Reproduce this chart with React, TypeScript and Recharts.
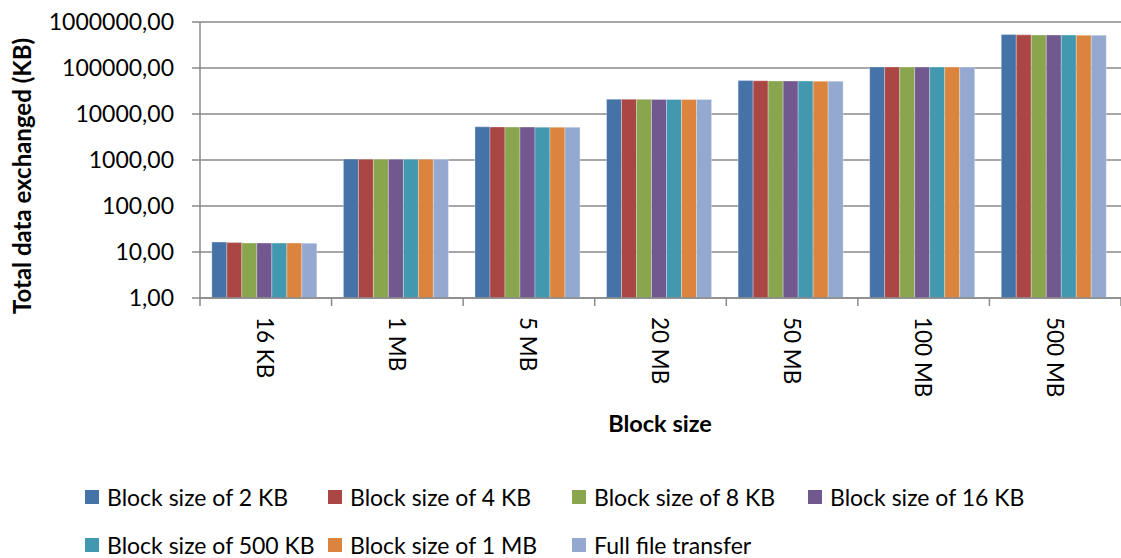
import React from 'react';
import { BarChart, Bar, XAxis, YAxis, CartesianGrid, Legend } from 'recharts';

// Block sizes on the x axis (file sizes transferred)
const categories = ['16 KB', '1 MB', '5 MB', '20 MB', '50 MB', '100 MB', '500 MB'];

// Total data exchanged (KB) per transfer mode
const block2kb = [16.4, 1045, 5260, 21000, 53200, 105500, 532000];
const block4kb = [16.0, 1042, 5230, 20900, 52800, 105200, 525000];
const block8kb = [15.7, 1040, 5200, 20800, 52300, 105000, 522000];
const block16kb = [15.6, 1038, 5190, 20750, 52000, 104800, 520000];
const block500kb = [15.6, 1037, 5180, 20700, 51900, 104700, 519000];
const block1mb = [15.6, 1036, 5170, 20700, 51800, 104600, 517000];
const fullFile = [15.5, 1035, 5160, 20650, 51700, 104500, 516000];

const yTicks = [1, 10, 100, 1000, 10000, 100000, 1000000];

const series = [
    { key: 'b2', name: 'Block size of 2 KB', color: '#4572A7', values: block2kb },
    { key: 'b4', name: 'Block size of 4 KB', color: '#AA4643', values: block4kb },
    { key: 'b8', name: 'Block size of 8 KB', color: '#89A54E', values: block8kb },
    { key: 'b16', name: 'Block size of 16 KB', color: '#71588F', values: block16kb },
    { key: 'b500', name: 'Block size of 500 KB', color: '#4198AF', values: block500kb },
    { key: 'b1m', name: 'Block size of 1 MB', color: '#DB843D', values: block1mb },
    { key: 'full', name: 'Full file transfer', color: '#93A9CF', values: fullFile },
];

const chartData = categories.map((cat, i) => {
    const row: any = { name: cat };
    series.forEach((s) => {
        row[s.key] = s.values[i];
    });
    return row;
});

const W = 1121;
const H = 558;
const PLOT_LEFT = 200;
const FONT = 'Lato, "Open Sans", sans-serif';
const GRID = '#8a8a8a';
const band = (W - PLOT_LEFT) / categories.length;

// x tick: boundary tick marks like Excel + rotated label
const XTick = (props: any) => {
    const { x, y, payload, index } = props;
    return (
        <g>
            <line x1={x - band / 2} y1={y} x2={x - band / 2} y2={y + 8} stroke={GRID} strokeWidth={1.5} />
            {index === categories.length - 1 && (
                <line x1={x + band / 2} y1={y} x2={x + band / 2} y2={y + 8} stroke={GRID} strokeWidth={1.5} />
            )}
            <text
                x={x}
                y={y + 19}
                transform={`rotate(90, ${x}, ${y + 19})`}
                textAnchor="start"
                dominantBaseline="central"
                fontFamily={FONT}
                fontSize={22.5}
                fill="#000"
            >
                {payload.value}
            </text>
        </g>
    );
};

const LegendContent = () => (
    <div
        style={{
            display: 'grid',
            gridTemplateColumns: '243px 244px 236px auto',
            rowGap: 18,
            paddingLeft: 85,
            fontFamily: FONT,
            fontSize: 23,
            color: '#000',
        }}
    >
        {series.map((s) => (
            <div key={s.key} style={{ display: 'flex', alignItems: 'center', height: 30, whiteSpace: 'nowrap' }}>
                <span style={{ width: 14, height: 14, background: s.color, marginRight: 8, flexShrink: 0 }} />
                {s.name}
            </div>
        ))}
    </div>
);

export default function App() {
    return (
        <div style={{ width: W, height: H, position: 'relative' }}>
            <style>{'body{margin:0}'}</style>
            <BarChart
                width={W}
                height={H}
                data={chartData}
                margin={{ top: 22, right: 0, left: 0, bottom: 0 }}
                barCategoryGap="9%"
                barGap={0}
            >
                <CartesianGrid vertical={false} stroke={GRID} strokeWidth={1.5} />
                <XAxis
                    dataKey="name"
                    height={260}
                    axisLine={{ stroke: GRID, strokeWidth: 1.5 }}
                    tickLine={false}
                    tickSize={0}
                    tickMargin={0}
                    interval={0}
                    tick={<XTick />}
                    label={{
                        content: () => (
                            <text
                                x={660}
                                y={432}
                                textAnchor="middle"
                                fontFamily={FONT}
                                fontSize={23.5}
                                fontWeight="bold"
                                fill="#000"
                            >
                                Block size
                            </text>
                        ),
                    }}
                />
                <YAxis
                    type="number"
                    scale="log"
                    domain={[1, 1000000]}
                    ticks={yTicks}
                    interval={0}
                    width={PLOT_LEFT}
                    allowDataOverflow
                    axisLine={{ stroke: GRID, strokeWidth: 1.5 }}
                    tickLine={{ stroke: GRID, strokeWidth: 1.5 }}
                    tickSize={8}
                    tickMargin={18}
                    tickFormatter={(v: number) => v.toFixed(2).replace('.', ',')}
                    tick={{ fontFamily: FONT, fontSize: 23, fill: '#000' }}
                    label={{
                        content: () => (
                            <text
                                x={31}
                                y={176}
                                transform="rotate(-90, 31, 176)"
                                textAnchor="middle"
                                fontFamily={FONT}
                                fontSize={24}
                                fontWeight="bold"
                                fill="#000"
                            >
                                Total data exchanged (KB)
                            </text>
                        ),
                    }}
                />
                <Legend
                    layout="horizontal"
                    verticalAlign="middle"
                    align="center"
                    wrapperStyle={{ position: 'absolute', top: 482, left: 0, width: W }}
                    content={<LegendContent />}
                />
                {series.map((s) => (
                    <Bar
                        key={s.key}
                        dataKey={s.key}
                        name={s.name}
                        fill={s.color}
                        stroke="#ffffff"
                        strokeOpacity={0.5}
                        strokeWidth={0.6}
                        isAnimationActive={false}
                    />
                ))}
            </BarChart>
        </div>
    );
}
